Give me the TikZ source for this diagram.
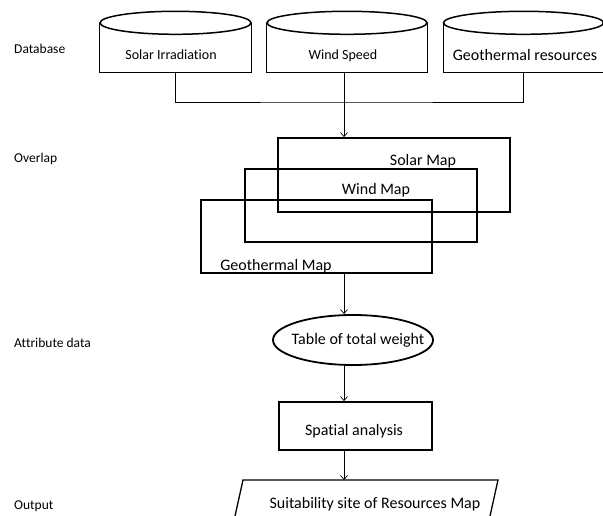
\documentclass[tikz,border=0pt]{standalone}
\usepackage{fontspec}
\setmainfont{Carlito}[Ligatures=NoCommon]
\usetikzlibrary{arrows.meta,shapes.geometric}
\begin{document}
\begin{tikzpicture}[x=1pt,y=-1pt,
  conn/.style={line width=0.7pt},
  arr/.style={line width=0.7pt,-{Straight Barb[length=4pt,width=7pt,line width=0.7pt]}},
  cylbody/.style={rectangle,draw=none,inner sep=0pt},
  cylside/.style={line width=0.9pt},
  cyltop/.style={line width=1.5pt},
  mapbox/.style={rectangle,draw,line width=1.8pt,inner sep=0pt},
  lbl/.style={inner sep=0pt,anchor=base west,font=\fontsize{13.5}{16}\selectfont},
  txt/.style={inner sep=0pt,anchor=base,font=\fontsize{14}{17}\selectfont},
  big/.style={inner sep=0pt,anchor=base,font=\fontsize{16}{19}\selectfont}]
\useasboundingbox (0,0) rectangle (603,516);
% left labels
\node[lbl] (l1) at (14,54) {Database};
\node[lbl] (l2) at (14,163) {Overlap};
\node[lbl] (l3) at (14,347) {Attribute data};
\node[lbl] (l4) at (14,509) {Output};
% cylinders
\node[cylbody,minimum width=151pt,minimum height=49pt] (c1) at (175.5,47.5) {};
\node[cylbody,minimum width=160pt,minimum height=49pt] (c2) at (347,47.5) {};
\node[cylbody,minimum width=160pt,minimum height=49pt] (c3) at (523.5,47.5) {};
\foreach \c in {c1,c2,c3}{
  \draw[cylside] (\c.north west) -- (\c.south west) -- (\c.south east) -- (\c.north east);
}
\draw[cyltop] (c1.north) ellipse [x radius=75.5pt, y radius=11.5pt];
\draw[cyltop] (c2.north) ellipse [x radius=80pt, y radius=11.5pt];
\draw[cyltop] (c3.north) ellipse [x radius=80pt, y radius=11.5pt];
\node[txt] (t1) at (171,60) {Solar Irradiation};
\node[txt] (t2) at (343,60) {Wind Speed};
\node[big] (t3) at (525,61) {Geothermal resources};
% maps
\node[mapbox,minimum width=232pt,minimum height=74pt] (smap) at (394,175) {};
\node[mapbox,minimum width=232pt,minimum height=73pt] (wmap) at (361,205.5) {};
\node[mapbox,minimum width=231pt,minimum height=73pt] (gmap) at (316.5,236.5) {};
\node[big] (smt) at (423,166) {Solar Map};
\node[big] (wmt) at (376,195) {Wind Map};
\node[big] (gmt) at (276,270) {Geothermal Map};
% connectors from database
\coordinate (j) at (344,102);
\draw[conn] (c1.south) |- (j) -| (c3.south);
\draw[arr] (c2.south -| j) -- (smap.north -| j);
% attribute
\node[ellipse,draw,line width=1.8pt,minimum width=160pt,minimum height=50pt,inner sep=0pt] (tot) at (353,340) {};
\node[big] (tott) at (358,344) {Table of total weight};
\draw[arr] (gmap.south -| j) -- (tot.north -| j);
% spatial analysis
\node[rectangle,draw,line width=1.8pt,minimum width=153pt,minimum height=48pt,inner sep=0pt] (sa) at (355.5,426) {};
\node[big] (sat) at (354,435) {Spatial analysis};
\draw[arr] (tot.south -| j) -- (sa.north -| j);
% output
\coordinate (o1) at (243,480);
\coordinate (o2) at (498,480);
\draw[line width=1.3pt] (233,525) -- (o1) -- (o2) -- (488,525);
\node[big] (out) at (375,508) {Suitability site of Resources Map};
\draw[arr] (sa.south -| j) -- (o1 -| j);
\end{tikzpicture}
\end{document}
